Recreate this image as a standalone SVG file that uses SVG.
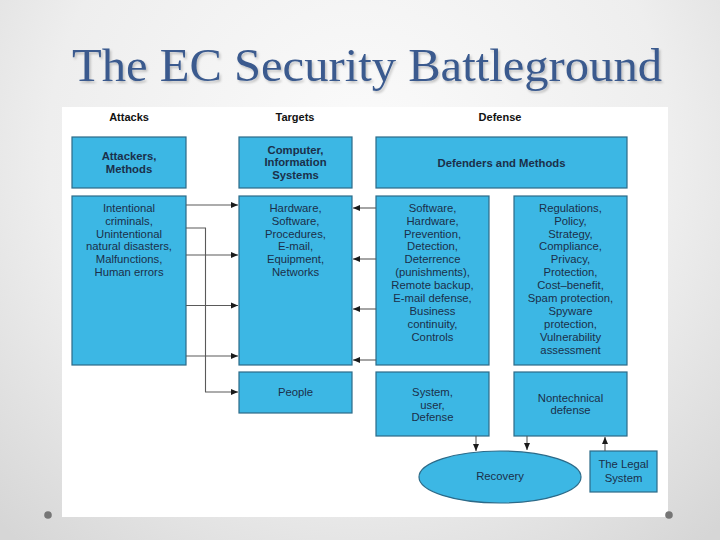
<svg xmlns="http://www.w3.org/2000/svg" width="720" height="540" viewBox="0 0 720 540">
<defs>
<radialGradient id="bg" cx="360" cy="150" r="520" gradientUnits="userSpaceOnUse">
<stop offset="0" stop-color="#fbfbfb"/>
<stop offset="0.6" stop-color="#eeeeee"/>
<stop offset="1" stop-color="#d6d6d6"/>
</radialGradient>
<filter id="sh" x="-5%" y="-20%" width="110%" height="140%">
<feDropShadow dx="1.5" dy="2" stdDeviation="1" flood-color="#000" flood-opacity="0.22"/>
</filter>
<marker id="ah" markerWidth="8" markerHeight="8" refX="7" refY="4" orient="auto" markerUnits="userSpaceOnUse">
<path d="M0,1 L7,4 L0,7 Z" fill="#1a1a1a"/>
</marker>
<style>
.box{fill:#3cb7e4;stroke:#2c6a88;stroke-width:1.2}
.t{font-family:"Liberation Sans",Arial,sans-serif;font-size:11.3px;fill:#1b2f4a;text-anchor:middle}
.b{font-weight:bold}
.h{font-family:"Liberation Sans",Arial,sans-serif;font-size:11px;font-weight:bold;fill:#111;text-anchor:middle}
.c{fill:none;stroke:#5a5a5a;stroke-width:1.1}
</style>
</defs>
<rect x="0" y="0" width="720" height="540" fill="url(#bg)"/>
<text x="72" y="81" font-family="'Liberation Serif','Times New Roman',serif" font-size="47" fill="#3a5a8e" textLength="590" lengthAdjust="spacingAndGlyphs" filter="url(#sh)">The EC Security Battleground</text>
<rect x="62" y="107" width="606" height="410" fill="#ffffff"/>
<circle cx="48" cy="515" r="3.8" fill="#767676"/>
<circle cx="669" cy="515" r="3.8" fill="#767676"/>

<text class="h" x="129" y="121">Attacks</text>
<text class="h" x="295" y="121">Targets</text>
<text class="h" x="500" y="121">Defense</text>

<g id="attackers">
<rect class="box" x="72" y="137" width="114" height="51"/>
<text class="t b"><tspan x="129" y="160">Attackers,</tspan><tspan x="129" y="173">Methods</tspan></text>
</g>
<g id="attack-list">
<rect class="box" x="72" y="196" width="114" height="169"/>
<text class="t"><tspan x="129" y="212">Intentional</tspan><tspan x="129" y="225">criminals,</tspan><tspan x="129" y="238">Unintentional</tspan><tspan x="129" y="250">natural disasters,</tspan><tspan x="129" y="263">Malfunctions,</tspan><tspan x="129" y="276">Human errors</tspan></text>
</g>
<g id="computer">
<rect class="box" x="239" y="137" width="113" height="51"/>
<text class="t b"><tspan x="295.5" y="154">Computer,</tspan><tspan x="295.5" y="166">Information</tspan><tspan x="295.5" y="179">Systems</tspan></text>
</g>
<g id="hardware">
<rect class="box" x="239" y="196" width="113" height="169"/>
<text class="t"><tspan x="295.5" y="212">Hardware,</tspan><tspan x="295.5" y="225">Software,</tspan><tspan x="295.5" y="238">Procedures,</tspan><tspan x="295.5" y="250">E-mail,</tspan><tspan x="295.5" y="263">Equipment,</tspan><tspan x="295.5" y="276">Networks</tspan></text>
</g>
<g id="people">
<rect class="box" x="239" y="372" width="113" height="41"/>
<text class="t" x="295.5" y="396">People</text>
</g>
<g id="defenders">
<rect class="box" x="376" y="137" width="251" height="51"/>
<text class="t b" x="501.5" y="167">Defenders and Methods</text>
</g>
<g id="software">
<rect class="box" x="376" y="196" width="113" height="169"/>
<text class="t"><tspan x="432.5" y="212">Software,</tspan><tspan x="432.5" y="225">Hardware,</tspan><tspan x="432.5" y="238">Prevention,</tspan><tspan x="432.5" y="250">Detection,</tspan><tspan x="432.5" y="263">Deterrence</tspan><tspan x="432.5" y="276">(punishments),</tspan><tspan x="432.5" y="289">Remote backup,</tspan><tspan x="432.5" y="302">E-mail defense,</tspan><tspan x="432.5" y="315">Business</tspan><tspan x="432.5" y="328">continuity,</tspan><tspan x="432.5" y="341">Controls</tspan></text>
</g>
<g id="regulations">
<rect class="box" x="514" y="196" width="113" height="169"/>
<text class="t"><tspan x="570.5" y="212">Regulations,</tspan><tspan x="570.5" y="225">Policy,</tspan><tspan x="570.5" y="238">Strategy,</tspan><tspan x="570.5" y="250">Compliance,</tspan><tspan x="570.5" y="263">Privacy,</tspan><tspan x="570.5" y="276">Protection,</tspan><tspan x="570.5" y="289">Cost–benefit,</tspan><tspan x="570.5" y="302">Spam protection,</tspan><tspan x="570.5" y="315">Spyware</tspan><tspan x="570.5" y="328">protection,</tspan><tspan x="570.5" y="341">Vulnerability</tspan><tspan x="570.5" y="354">assessment</tspan></text>
</g>
<g id="system-defense">
<rect class="box" x="376" y="372" width="113" height="64"/>
<text class="t"><tspan x="432.5" y="396">System,</tspan><tspan x="432.5" y="409">user,</tspan><tspan x="432.5" y="421">Defense</tspan></text>
</g>
<g id="nontechnical">
<rect class="box" x="514" y="372" width="113" height="64"/>
<text class="t"><tspan x="570.5" y="402">Nontechnical</tspan><tspan x="570.5" y="414">defense</tspan></text>
</g>
<g id="recovery">
<ellipse class="box" cx="500" cy="477" rx="81" ry="26"/>
<text class="t" x="500" y="480">Recovery</text>
</g>
<g id="legal">
<rect class="box" x="590" y="451" width="67" height="41"/>
<text class="t"><tspan x="623.5" y="468">The Legal</tspan><tspan x="623.5" y="482">System</tspan></text>
</g>

<g id="connectors">
<path class="c" d="M186,205 H238" marker-end="url(#ah)"/>
<path class="c" d="M186,255 H238" marker-end="url(#ah)"/>
<path class="c" d="M186,305.5 H238" marker-end="url(#ah)"/>
<path class="c" d="M186,356 H238" marker-end="url(#ah)"/>
<path class="c" d="M186,228 H205.5 V392 H238" marker-end="url(#ah)"/>
<path class="c" d="M376,208 H353" marker-end="url(#ah)"/>
<path class="c" d="M376,259 H353" marker-end="url(#ah)"/>
<path class="c" d="M376,309 H353" marker-end="url(#ah)"/>
<path class="c" d="M376,360 H353" marker-end="url(#ah)"/>
<path class="c" d="M476,436 V451" marker-end="url(#ah)"/>
<path class="c" d="M527,436 V450" marker-end="url(#ah)"/>
<path class="c" d="M605,451 V437" marker-end="url(#ah)"/>
</g>
</svg>
